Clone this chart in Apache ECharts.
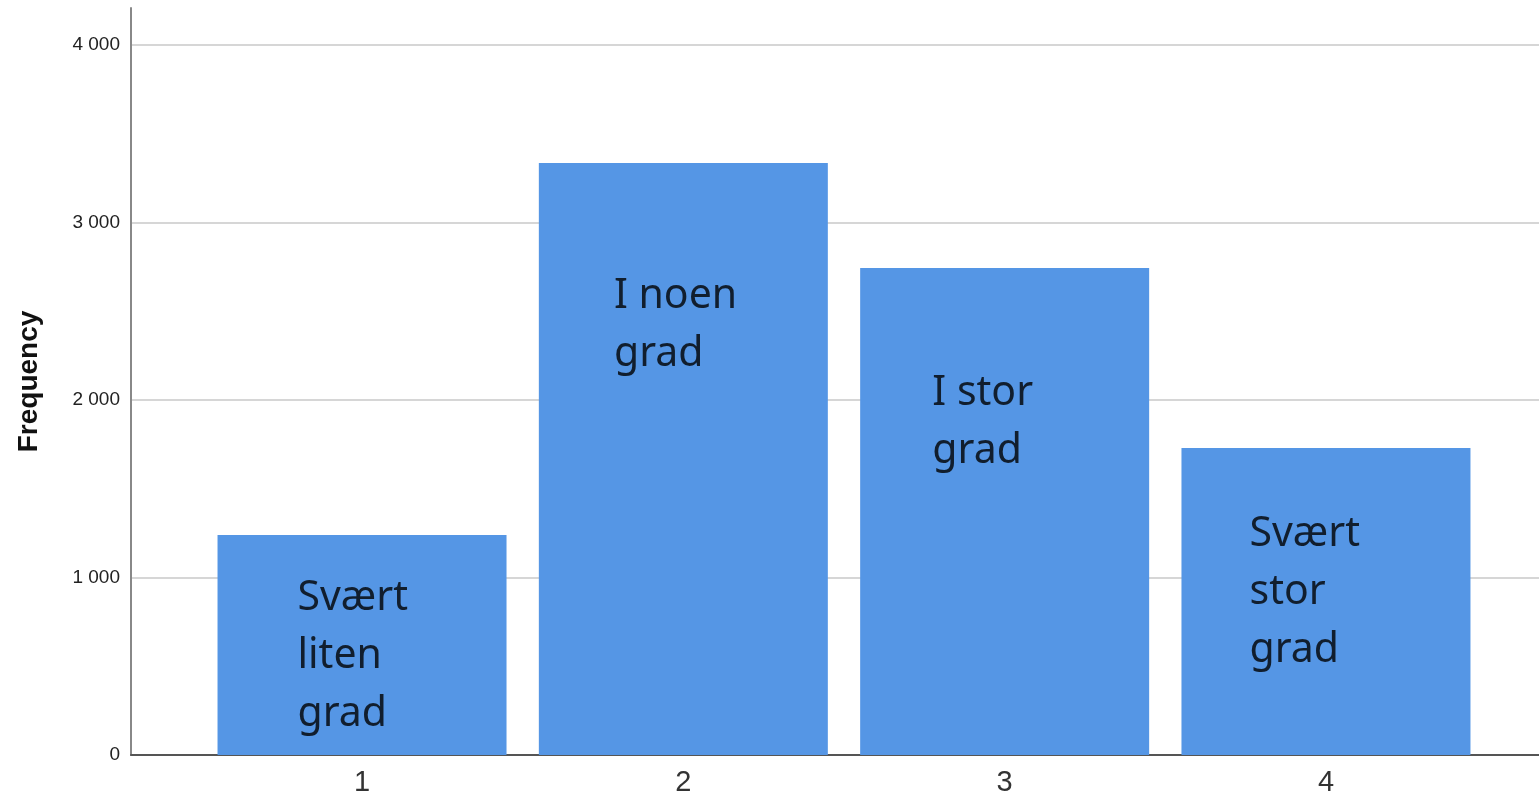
<!DOCTYPE html>
<html>
<head>
<meta charset="utf-8">
<script src="https://cdn.jsdelivr.net/npm/echarts@6/dist/echarts.min.js"></script>
<style>
  html, body { margin: 0; padding: 0; background: #fff; }
  #chart { width: 1539px; height: 799px; }
</style>
</head>
<body>
<div id="chart"></div>
<script>
// data
const categories = [1, 2, 3, 4];
const frequencies = [1239, 3335, 2744, 1730];
const yTicks = [0, 1000, 2000, 3000, 4000];
const barTexts = ["Svært\nliten\ngrad", "I noen\ngrad", "I stor\ngrad", "Svært\nstor\ngrad"];
// where the texts sit, in data units
const textX = [0.799, 1.784, 2.775, 3.762];
const textY = [1048, 2750, 2203, 1409];

const chart = echarts.init(document.getElementById("chart"));

const option = {
  animation: false,
  grid: { left: 131, right: 0, top: 8, bottom: 44 },
  xAxis: {
    type: "value",
    min: 0.281,
    max: 4.663,
    axisLine: { show: true, lineStyle: { color: "#555", width: 2 } },
    axisTick: { show: false },
    splitLine: { show: false },
    axisLabel: {
      customValues: categories,
      fontFamily: "Liberation Sans",
      fontSize: 29,
      color: "#333",
      margin: 13,
    },
  },
  yAxis: {
    type: "value",
    min: 0,
    max: 4208,
    name: "Frequency",
    nameLocation: "middle",
    nameGap: 88,
    nameTextStyle: {
      fontFamily: "Liberation Sans",
      fontWeight: "bold",
      fontSize: 28,
      color: "#111",
    },
    axisLine: { show: true, lineStyle: { color: "#888", width: 2 } },
    axisTick: { show: false, customValues: yTicks },
    splitLine: { show: true, lineStyle: { color: "#c8c8c8", width: 1.5 } },
    axisLabel: {
      customValues: yTicks,
      fontFamily: "Liberation Sans",
      fontSize: 19,
      color: "#222",
      margin: 11,
      formatter: (v) => String(v).replace(/\B(?=(\d{3})+(?!\d))/g, " "),
    },
  },
  series: [
    {
      type: "bar",
      barWidth: 289,
      data: categories.map((c, i) => [c, frequencies[i]]),
      itemStyle: { color: "#5596e5" },
      z: 2,
    },
    {
      // text inside the bars
      type: "scatter",
      symbolSize: 0,
      silent: true,
      z: 5,
      data: textX.map((x, i) => ({ value: [x, textY[i]], name: barTexts[i] })),
      label: {
        show: true,
        position: [0, 0],
        align: "left",
        verticalAlign: "top",
        formatter: (p) => p.name,
        fontFamily: "Noto Sans",
        fontSize: 41,
        lineHeight: 58,
        color: "#000",
      },
    },
  ],
};

chart.setOption(option);
window.addEventListener("resize", () => chart.resize());
</script>
</body>
</html>
